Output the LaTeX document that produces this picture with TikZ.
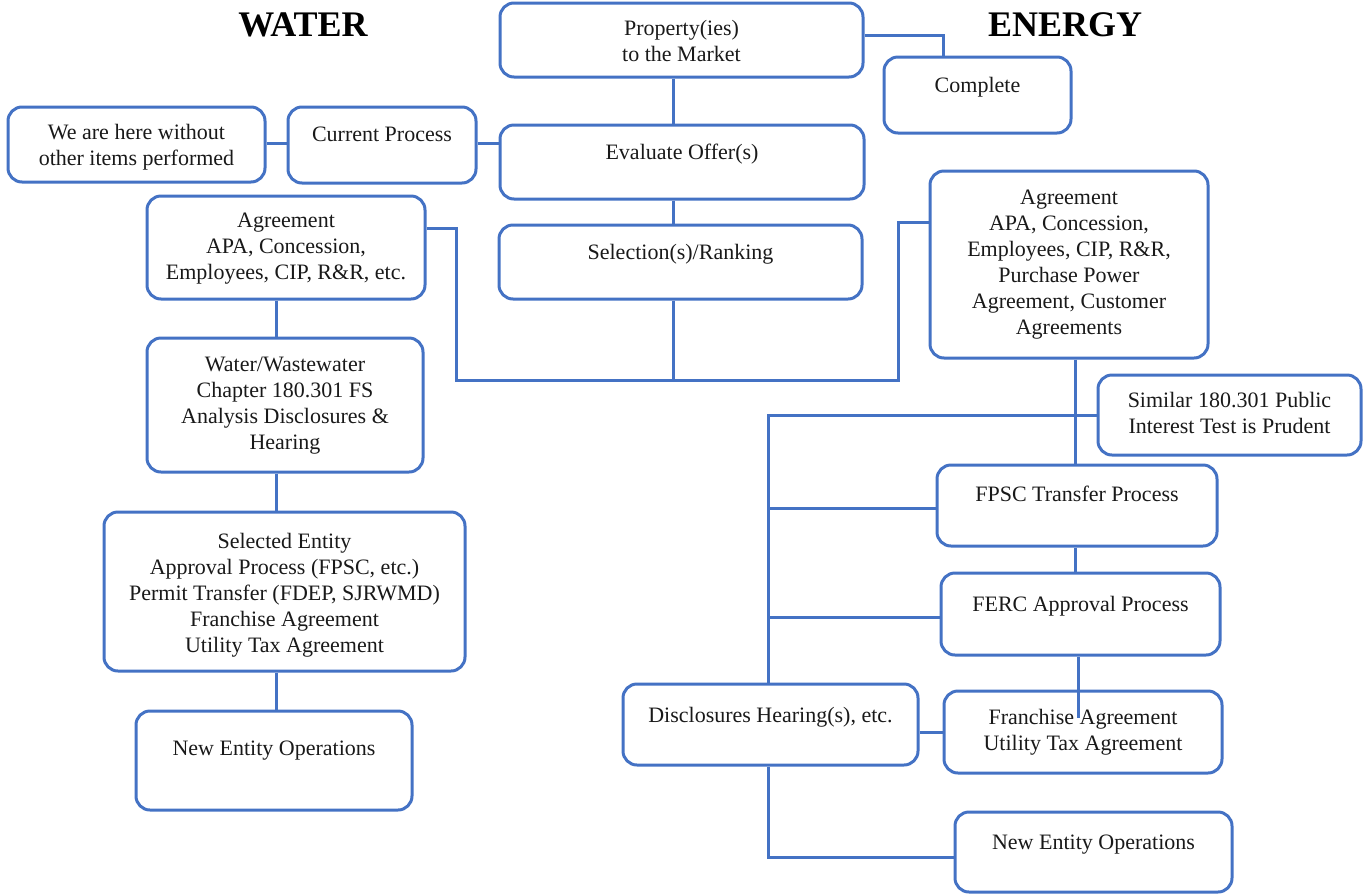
\documentclass[tikz,border=0pt]{standalone}
\usepackage{fontspec}
\setmainfont{Liberation Serif}
\definecolor{lineblue}{RGB}{68,114,196}
\definecolor{txtc}{RGB}{25,25,25}
\tikzset{
  box/.style={draw=lineblue, line width=3pt, rounded corners=14pt, inner sep=0pt,
    font=\fontsize{22}{26}\selectfont, text=txtc},
  link/.style={draw=lineblue, line width=3pt},
  title/.style={font=\fontsize{36}{40}\selectfont\bfseries, text=black}
}
\newcommand{\mybox}[7]{%
  \node[box] (#1) at ({(#2+#4)/2},{(#3+#5)/2})
    {\parbox[c][\dimexpr#5pt-#3pt\relax][t]{\dimexpr#4pt-#2pt\relax}{\vspace*{\dimexpr#6pt-11pt\relax}\noindent\makebox[\linewidth]{\begin{tabular}[t]{@{}c@{}}#7\end{tabular}}\par}};%
}
\begin{document}
\begin{tikzpicture}[x=1pt,y=-1pt]
\useasboundingbox (0,0) rectangle (1363,895);
\node[title] (twater) at (303,25) {WATER};
\node[title] (tenergy) at (1065,25) {ENERGY};

\mybox{prop}{500}{3}{863}{77}{25}{Property(ies)\\to the Market}
\mybox{complete}{884}{57}{1071}{133}{28}{Complete}
\mybox{here}{8}{107}{265}{182}{25}{We are here without\\other items performed}
\mybox{cur}{288}{107}{476}{183}{27}{Current Process}
\mybox{eval}{500}{125}{864}{199}{27}{Evaluate Offer(s)}
\mybox{sel}{499}{225}{862}{299}{27}{Selection(s)/Ranking}
\mybox{wagr}{147}{196}{425}{299}{24}{Agreement\\APA, Concession,\\Employees, CIP, R\&R, etc.}
\mybox{eagr}{930}{171}{1208}{358}{26}{Agreement\\APA, Concession,\\Employees, CIP, R\&R,\\Purchase Power\\Agreement, Customer\\Agreements}
\mybox{wwater}{147}{338}{423}{472}{26}{Water/Wastewater\\Chapter 180.301 FS\\Analysis Disclosures \&\\Hearing}
\mybox{wsel}{104}{512}{465}{671}{29}{Selected Entity\\Approval Process (FPSC, etc.)\\Permit Transfer (FDEP, SJRWMD)\\Franchise Agreement\\Utility Tax Agreement}
\mybox{wnew}{136}{711}{412}{810}{37}{New Entity Operations}
\mybox{sim}{1098}{375}{1361}{455}{25}{Similar 180.301 Public\\Interest Test is Prudent}
\mybox{fpsc}{937}{465}{1217}{546}{29}{FPSC Transfer Process}
\mybox{ferc}{941}{573}{1220}{655}{31}{FERC Approval Process}
\mybox{disc}{623}{684}{918}{765}{31}{Disclosures Hearing(s), etc.}
\mybox{fran}{944}{691}{1222}{773}{26}{Franchise Agreement\\Utility Tax Agreement}
\mybox{enew}{955}{812}{1232}{892}{30}{New Entity Operations}

% connectors
\coordinate (j1) at (943,35);
\draw[link] (prop.east |- j1) -| (complete.north -| j1);
\coordinate (j2) at (0,143);
\draw[link] (here.east |- j2) -- (cur.west |- j2);
\draw[link] (cur.east |- j2) -- (eval.west |- j2);
\coordinate (j3) at (673,0);
\draw[link] (prop.south -| j3) -- (eval.north -| j3);
\draw[link] (eval.south -| j3) -- (sel.north -| j3);
\coordinate (j4) at (673,380);
\draw[link] (sel.south -| j4) -- (j4);
\coordinate (j5) at (456,228);
\coordinate (j6) at (898,222);
\draw[link] (wagr.east |- j5) -| (j5 |- j4) -| (j6) -- (eagr.west |- j6);
\coordinate (j7) at (276,0);
\draw[link] (wagr.south -| j7) -- (wwater.north -| j7);
\draw[link] (wwater.south -| j7) -- (wsel.north -| j7);
\draw[link] (wsel.south -| j7) -- (wnew.north -| j7);
\coordinate (j8) at (1075,0);
\draw[link] (eagr.south -| j8) -- (fpsc.north -| j8);
\draw[link] (fpsc.south -| j8) -- (ferc.north -| j8);
\coordinate (j9) at (768,415);
\draw[link] (sim.west |- j9) -- (j9) -- (j9 |- disc.north);
\coordinate (j10) at (768,508);
\draw[link] (j10) -- (fpsc.west |- j10);
\coordinate (j11) at (768,617);
\draw[link] (j11) -- (ferc.west |- j11);
\coordinate (j12) at (1078,718);
\draw[link] (ferc.south -| j12) -- (j12);
\coordinate (j13) at (0,732);
\draw[link] (disc.east |- j13) -- (fran.west |- j13);
\coordinate (j14) at (768,857);
\draw[link] (disc.south -| j14) -- (j14) -- (enew.west |- j14);
\end{tikzpicture}
\end{document}
